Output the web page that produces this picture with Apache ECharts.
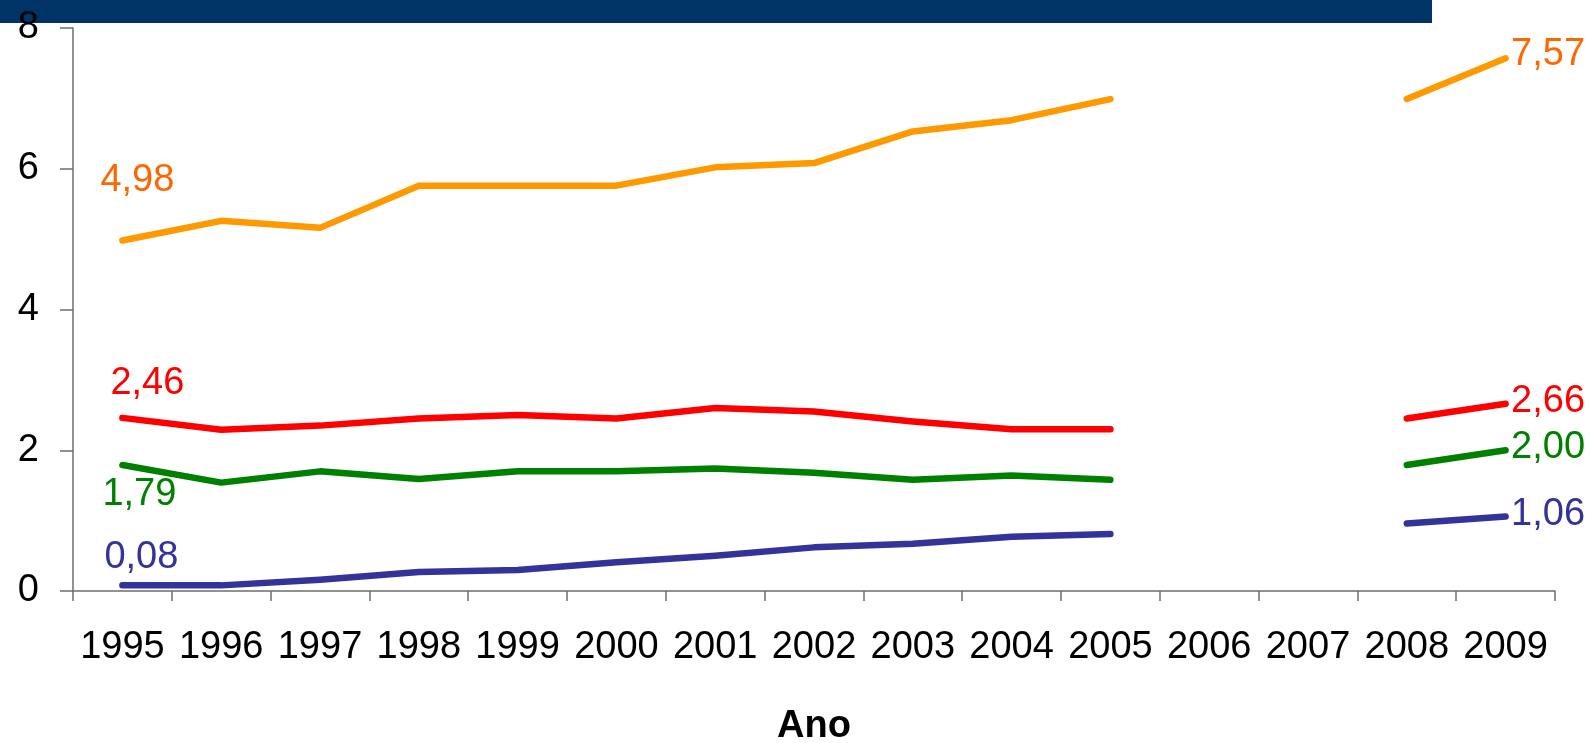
<!DOCTYPE html>
<html>
<head>
<meta charset="utf-8">
<script src="https://cdn.jsdelivr.net/npm/echarts@6/dist/echarts.min.js"></script>
<style>
  html, body { margin: 0; padding: 0; background: #ffffff; }
  #chart { width: 1594px; height: 743px; }
</style>
</head>
<body>
<div id="chart"></div>
<script>
// Years on the category axis; 2006 and 2007 have no data (gaps in the lines)
const years = ['1995', '1996', '1997', '1998', '1999', '2000', '2001', '2002',
               '2003', '2004', '2005', '2006', '2007', '2008', '2009'];

const orangeValues = [4.98, 5.26, 5.16, 5.76, 5.76, 5.76, 6.02, 6.08, 6.53, 6.69, 6.99, null, null, 6.99, 7.57];
const redValues    = [2.46, 2.29, 2.35, 2.45, 2.50, 2.45, 2.60, 2.55, 2.41, 2.30, 2.30, null, null, 2.45, 2.66];
const greenValues  = [1.79, 1.54, 1.70, 1.59, 1.70, 1.70, 1.74, 1.68, 1.58, 1.64, 1.58, null, null, 1.79, 2.00];
const blueValues   = [0.08, 0.08, 0.16, 0.27, 0.30, 0.41, 0.50, 0.62, 0.67, 0.77, 0.81, null, null, 0.96, 1.06];

const yTicks = [0, 2, 4, 6, 8];

const FONT = "'Liberation Sans', Arial, Helvetica, sans-serif";
const FS = 38;

const fmt = v => v.toFixed(2).replace('.', ',');

// Label the first and last point of each line
function buildSeries(name, values, lineColor, labelColor, firstOffset, lastOffset) {
  const last = values.length - 1;
  const data = values.map((v, i) => {
    if (v === null) return null;
    if (i === 0) {
      return { value: v, label: { show: true, position: 'inside', offset: firstOffset } };
    }
    if (i === last) {
      return { value: v, label: { show: true, position: 'right', distance: 5, offset: lastOffset } };
    }
    return v;
  });
  return {
    name,
    type: 'line',
    data,
    connectNulls: false,
    symbol: 'circle',
    symbolSize: 1,
    showSymbol: true,
    itemStyle: { color: 'rgba(0,0,0,0)', borderWidth: 0 },
    lineStyle: { color: lineColor, width: 6.5, cap: 'round', join: 'round' },
    label: {
      show: false,
      color: labelColor,
      fontFamily: FONT,
      fontSize: FS,
      formatter: p => fmt(p.value)
    },
    emphasis: { disabled: true },
    animation: false
  };
}

const chart = echarts.init(document.getElementById('chart'), null, { renderer: 'canvas' });

chart.setOption({
  backgroundColor: '#ffffff',
  animation: false,
  graphic: [{
    type: 'rect',
    z: -10,
    shape: { x: 0, y: 0, width: 1432, height: 23 },
    style: { fill: '#003366' }
  }],
  grid: { left: 73, right: 39, top: 28, bottom: 152, containLabel: false, outerBoundsMode: 'none' },
  xAxis: {
    type: 'category',
    data: years,
    boundaryGap: true,
    name: 'Ano',
    nameLocation: 'middle',
    nameGap: 117,
    nameTextStyle: { fontFamily: FONT, fontSize: FS, fontWeight: 'bold', color: '#000' },
    axisLine: { lineStyle: { color: '#6e6e6e', width: 1.5 } },
    axisTick: { show: true, alignWithLabel: false, length: 10, lineStyle: { color: '#6e6e6e', width: 1.5 } },
    axisLabel: { fontFamily: FONT, fontSize: FS, color: '#000', margin: 38, interval: 0 },
    splitLine: { show: false }
  },
  yAxis: {
    type: 'value',
    min: yTicks[0],
    max: yTicks[yTicks.length - 1],
    interval: 2,
    axisLine: { show: true, lineStyle: { color: '#6e6e6e', width: 1.5 } },
    axisTick: { show: true, length: 13, lineStyle: { color: '#6e6e6e', width: 1.5 } },
    axisLabel: { fontFamily: FONT, fontSize: FS, color: '#000', margin: 34 },
    splitLine: { show: false }
  },
  series: [
    buildSeries('laranja', orangeValues, '#FF9900', '#FF6600', [15, -60], [0, -4]),
    buildSeries('vermelho', redValues, '#FF0000', '#FF0000', [25, -34], [0, -2]),
    buildSeries('verde', greenValues, '#008000', '#008000', [17, 29], [0, -3]),
    buildSeries('azul', blueValues, '#333399', '#333399', [19, -28], [0, -2])
  ]
});
</script>
</body>
</html>
